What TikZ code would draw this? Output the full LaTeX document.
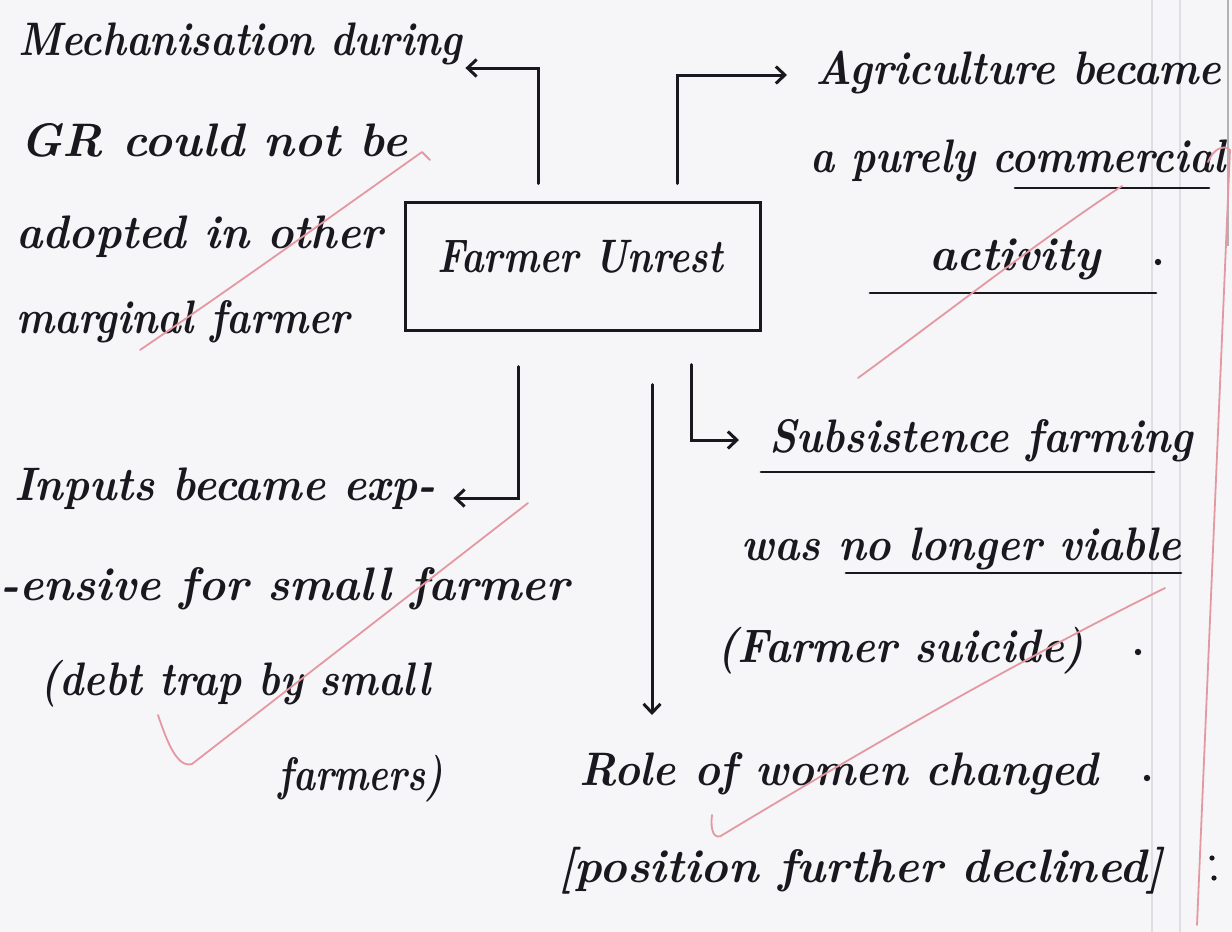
\documentclass[tikz,border=0pt]{standalone}
\usepackage{fontspec}
\usepackage{graphicx}
\usetikzlibrary{arrows.meta}
\definecolor{ink}{RGB}{24,24,30}
\definecolor{paper}{RGB}{246,246,249}
\definecolor{redpen}{RGB}{228,152,162}
\definecolor{rule}{RGB}{222,222,228}
\newcommand{\hwfont}{\fontsize{47}{52}\selectfont\bfseries\itshape}
\newcommand{\hw}[2]{\resizebox{#1}{\height}{\hwfont #2}}
\begin{document}
\begin{tikzpicture}[x=1pt,y=-1pt,
  txt/.style={anchor=base west, inner sep=0pt, text=ink},
  conn/.style={draw=ink, line width=3pt, line cap=round,
    -{Straight Barb[length=9pt,width=17pt]}},
  framebox/.style={draw=ink, line width=3pt, minimum width=355pt,
    minimum height=128pt, inner sep=0pt},
  uline/.style={draw=ink, line width=2.8pt, line cap=round},
  redline/.style={draw=redpen, line width=1.8pt, line cap=round, line join=round},
  dotmark/.style={fill=ink}
]
\fill[paper] (0,0) rectangle (1232,932);
\useasboundingbox (0,0) rectangle (1232,932);
% notebook rules at right
\draw[rule, line width=1.2pt] (1152,0) -- (1152,932);
\draw[rule, line width=1.2pt] (1180,0) -- (1180,932);
\draw[gray!60, line width=1.6pt] (1228,0) -- (1228,246);

% central box
\node[framebox] (fu) at (582.5,266) {};
\node[txt, anchor=base] (fut) at (580,272) {\hw{286pt}{Farmer Unrest}};

% top-left block
\node[txt] (l1) at (18,55) {\hw{444pt}{Mechanisation during}};
\node[txt] (l2) at (20,156) {\hw{387pt}{GR could not be}};
\node[txt] (l3) at (16,248) {\hw{367pt}{adopted in other}};
\node[txt] (l4) at (16,333) {\hw{334pt}{marginal farmer}};

% top-right block
\node[txt] (l5) at (815,84) {\hw{406pt}{Agriculture became}};
\node[txt] (l6) at (810,172) {\hw{415pt}{a purely commercial}};
\node[txt] (l7) at (929,270) {\hw{171pt}{activity}};
\fill[dotmark] (1158,262) circle (3.2pt);
\draw[uline] (1015,188) -- (1209,188);
\draw[uline] (870,293) -- (1156,293);

% right-middle block
\node[txt] (l8) at (769,452) {\hw{424pt}{Subsistence farming}};
\node[txt] (l9) at (741,560) {\hw{440pt}{was no longer viable}};
\node[txt] (l10) at (717,662) {\hw{367pt}{(Farmer suicide)}};
\fill[dotmark] (1138,652) circle (3.2pt);
\draw[uline] (761,472) -- (1154,472);
\draw[uline] (846,573) -- (1181,573);

% bottom-center block
\node[txt] (l11) at (579,785) {\hw{519pt}{Role of women changed}};
\fill[dotmark] (1147,778) circle (3.2pt);
\node[txt] (l12) at (558,882) {\hw{605pt}{[position further declined]}};
\fill[dotmark] (1212,858) circle (2.6pt);
\fill[dotmark] (1214,878) circle (2.6pt);

% bottom-left block
\node[txt] (l13) at (14,500) {\hw{421pt}{Inputs became exp-}};
\node[txt] (l14) at (0,600) {\hw{569pt}{-ensive for small farmer}};
\node[txt] (l15) at (40,695) {\hw{390pt}{(debt trap by small}};
\node[txt] (l16) at (278,790) {\hw{165pt}{farmers)}};

% connectors
\draw[conn] ([xshift=-44.5pt,yshift=17pt]fu.north) |- ([xshift=3pt,yshift=-13pt]l1.base east);
\draw[conn] ([xshift=94.5pt,yshift=17pt]fu.north) |- ([xshift=-28pt,yshift=9pt]l5.base west);
\draw[conn] ([xshift=-64.5pt,yshift=-35pt]fu.south) |- ([xshift=18pt,yshift=2pt]l13.base east);
\draw[conn] ([xshift=69.5pt,yshift=-53pt]fu.south) -- ([xshift=73pt,yshift=70pt]l11.base west);
\draw[conn] ([xshift=108.5pt,yshift=-33pt]fu.south) |- ([xshift=-30pt,yshift=12pt]l8.base west);

% red pen marks
\draw[redline] (140,350) .. controls (250,275) and (340,210) .. (422,152) -- (430,160);
\draw[redline] (858,378) .. controls (940,318) and (1040,240) .. (1122,186);
\draw[redline] (158,715) .. controls (168,745) and (178,768) .. (192,764) -- (528,503);
\draw[redline] (712,815) .. controls (710,830) and (714,842) .. (724,834)
  .. controls (880,740) and (1020,660) .. (1165,588);
\draw[redline] (1208,162) .. controls (1213,149) and (1224,144) .. (1230,150) -- (1197,925);
\end{tikzpicture}
\end{document}
